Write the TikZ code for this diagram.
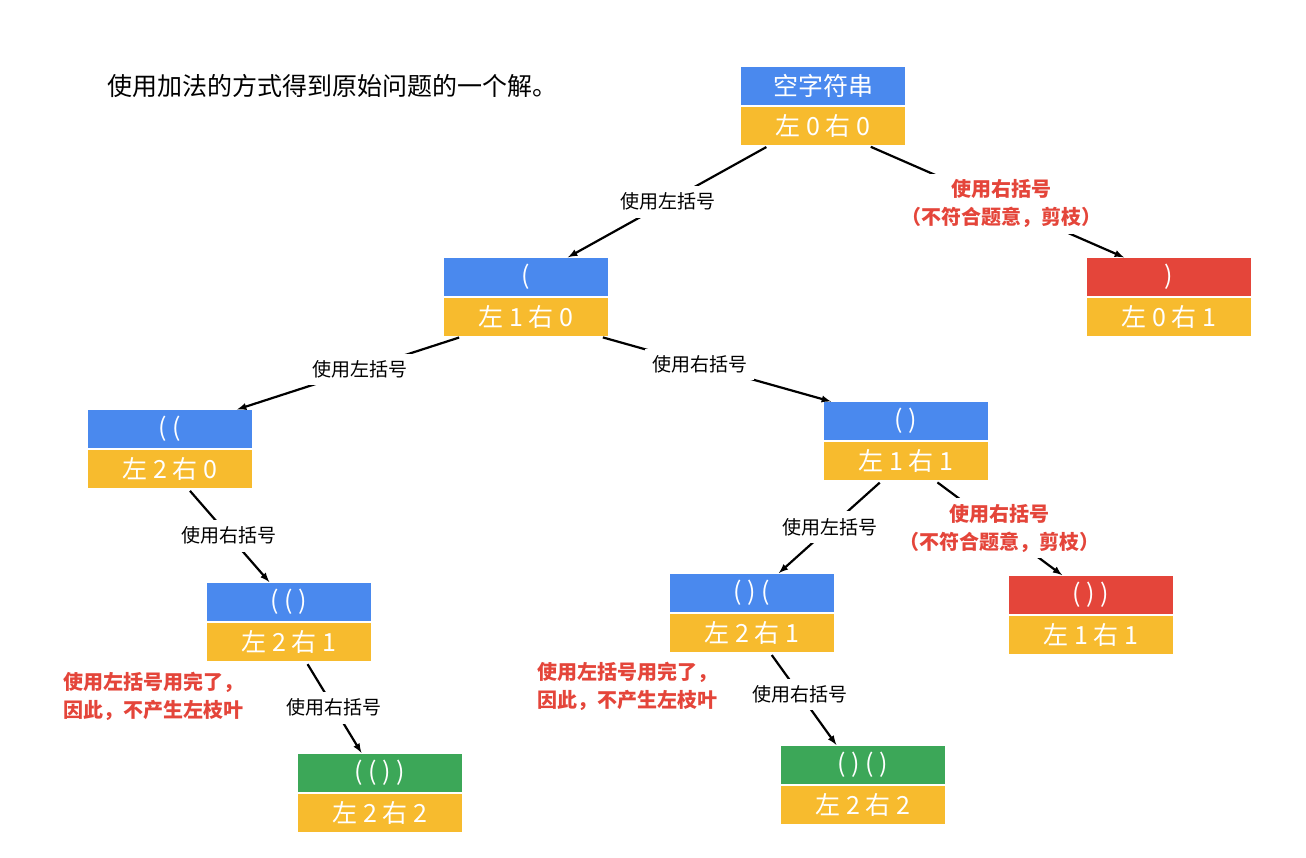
\documentclass[tikz,border=0pt]{standalone}
\usepackage{fontspec}
\setmainfont{Noto Sans CJK SC}
\usetikzlibrary{positioning}

\definecolor{gblue}{RGB}{74,137,238}
\definecolor{gyellow}{RGB}{247,187,46}
\definecolor{gred}{RGB}{228,69,58}
\definecolor{ggreen}{RGB}{60,167,88}

\tikzset{
	part/.style={minimum width=164pt, minimum height=38pt, inner sep=0pt, text=white, font=\fontsize{25}{25}\selectfont},
	toppart/.style={part, fill=#1},
	botpart/.style={part, fill=gyellow},
	edge/.style={-latex, line width=2.2pt, shorten <=3pt, shorten >=1pt},
	lbl/.style={fill=white, inner sep=7pt, font=\fontsize{19}{19}\selectfont},
	note/.style={text=gred, align=center, font=\fontsize{20}{28}\selectfont\bfseries},
}

\begin{document}
\begin{tikzpicture}[x=1pt, y=-1pt]
	\useasboundingbox (0,0) rectangle (1306,858);
	\node[anchor=west, font=\fontsize{25}{25}\selectfont] (title) at (104,86) {使用加法的方式得到原始问题的一个解。};
	% boxes: name/x/y/colour/top/bottom
	\foreach \n/\x/\y/\c/\t/\b in {s0/823/86/gblue/空字符串/左 0 右 0, s1/526/277/gblue/(/左 1 右 0, s2/1169/277/gred/)/左 0 右 1, s3/170/429/gblue/( (/左 2 右 0, s4/906/421/gblue/( )/左 1 右 1, s5/289/602/gblue/( ( )/左 2 右 1, s6/752/593/gblue/( ) (/左 2 右 1, s7/1091/595/gred/( ) )/左 1 右 1, s8/380/773/ggreen/( ( ) )/左 2 右 2, s9/863/765/ggreen/( ) ( )/左 2 右 2}{
		\node[toppart=\c] (\n) at (\x,\y) {\t};
		\node[botpart, below=2pt of \n] (\n-l) {\b};
	}
	\draw[edge] ([xshift=-54pt]s0-l.south) -- node[lbl]{使用左括号} ([xshift=41pt]s1.north);
	\draw[edge] ([xshift=45pt]s0-l.south) -- node[lbl, note, inner sep=6pt, pos=0.52]{使用右括号\\（不符合题意，剪枝）} ([xshift=-44pt]s2.north);
	\draw[edge] ([xshift=-64pt]s1-l.south) -- node[lbl, pos=0.45]{使用左括号} ([xshift=66pt]s3.north);
	\draw[edge] ([xshift=74pt]s1-l.south) -- node[lbl, pos=0.43]{使用右括号} ([xshift=-74pt]s4.north);
	\draw[edge] ([xshift=18pt]s3-l.south) -- node[lbl]{使用右括号} ([xshift=-19pt]s5.north);
	\draw[edge] ([xshift=-24pt]s4-l.south) -- node[lbl]{使用左括号} ([xshift=26pt]s6.north);
	\draw[edge] ([xshift=29pt]s4-l.south) -- node[lbl, note, inner sep=6pt, pos=0.5]{使用右括号\\（不符合题意，剪枝）} ([xshift=-28pt]s7.north);
	\draw[edge] ([xshift=17pt]s5-l.south) -- node[lbl]{使用右括号} ([xshift=-18pt]s8.north);
	\draw[edge] ([xshift=18pt]s6-l.south) -- node[lbl, pos=0.45]{使用右括号} ([xshift=-26pt]s9.north);
	% notes
	\node[note, align=left, anchor=west] (n1) at (60,696) {使用左括号用完了，\\因此，不产生左枝叶};
	\node[note, align=left, anchor=west] (n2) at (534,686) {使用左括号用完了，\\因此，不产生左枝叶};
\end{tikzpicture}
\end{document}
